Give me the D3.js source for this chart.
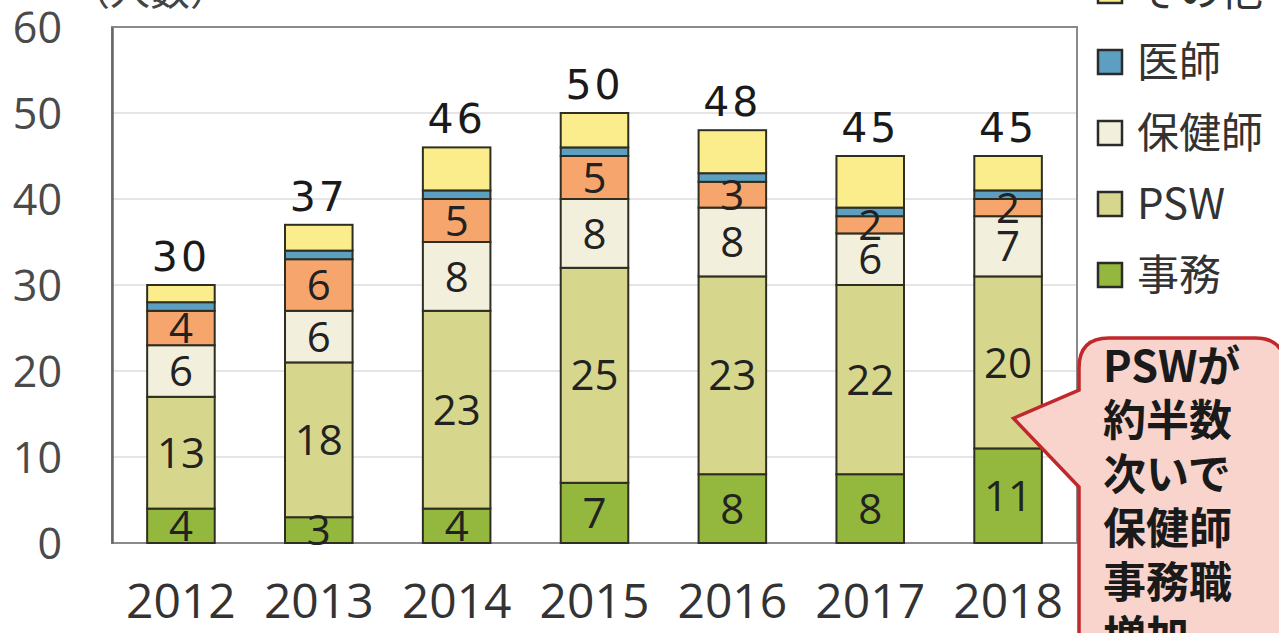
<!DOCTYPE html>
<html lang="ja">
<head>
<meta charset="utf-8">
<script src="https://cdn.jsdelivr.net/npm/d3@7"></script>
<style>
  html, body { margin: 0; padding: 0; background: #ffffff; overflow: hidden; }
  svg { display: block; }
</style>
</head>
<body>
<svg id="chart" width="1279" height="633"></svg>
<script>
// Staff by job type, 2012–2018 (persons)
const years = ["2012", "2013", "2014", "2015", "2016", "2017", "2018"];
const jimu     = [4, 3, 4, 7, 8, 8, 11];       // 事務
const psw      = [13, 18, 23, 25, 23, 22, 20]; // PSW
const hokenshi = [6, 6, 8, 8, 8, 6, 7];        // 保健師
const shinri   = [4, 6, 5, 5, 3, 2, 2];        // 心理職
const ishi     = [1, 1, 1, 1, 1, 1, 1];        // 医師
const sonota   = [2, 3, 5, 4, 5, 6, 4];        // その他
const totals   = [30, 37, 46, 50, 48, 45, 45];
const yTicks   = [0, 10, 20, 30, 40, 50, 60];

const seriesKeys   = ["事務", "PSW", "保健師", "心理職", "医師", "その他"];
const seriesValues = [jimu, psw, hokenshi, shinri, ishi, sonota];
const seriesColors = ["#93b83d", "#d6d78d", "#f3efdd", "#f6a66c", "#5d9fc0", "#fbec8c"];
const labelled     = ["事務", "PSW", "保健師", "心理職"];
const legendKeys   = ["その他", "医師", "保健師", "PSW", "事務"];

const rows = years.map((yr, i) => {
  const r = { year: yr };
  seriesKeys.forEach((k, j) => { r[k] = seriesValues[j][i]; });
  return r;
});

const svg = d3.select("#chart");
const plot = { left: 112, right: 1077, top: 27, bottom: 543 };

const x = d3.scaleBand().domain(years).range([plot.left, plot.right]).paddingInner(0.51).paddingOuter(0.255);
const y = d3.scaleLinear().domain([0, 60]).range([plot.bottom, plot.top]);
const color = d3.scaleOrdinal().domain(seriesKeys).range(seriesColors);

// gridlines
svg.append("g")
  .selectAll("line")
  .data(yTicks.filter(t => t > 0 && t < 60))
  .join("line")
  .attr("x1", plot.left).attr("x2", plot.right)
  .attr("y1", d => y(d)).attr("y2", d => y(d))
  .attr("stroke", "#dcdcdc").attr("stroke-width", 1.5);

// plot frame
svg.append("rect")
  .attr("x", plot.left).attr("y", plot.top)
  .attr("width", plot.right - plot.left).attr("height", plot.bottom - plot.top)
  .attr("fill", "none").attr("stroke", "#8a8a8a").attr("stroke-width", 2);

// y axis
const yAxis = svg.append("g")
  .attr("transform", `translate(${plot.left},0)`)
  .call(d3.axisLeft(y).tickValues(yTicks).tickSize(0).tickPadding(50));
yAxis.select(".domain").attr("stroke", "#666").attr("stroke-width", 2.5);
yAxis.selectAll("text")
  .attr("font-family", "'Open Sans', sans-serif")
  .attr("font-size", 43).attr("fill", "#4a4a4a").attr("dy", "0.36em");

// x axis
const xAxis = svg.append("g")
  .attr("transform", `translate(0,${plot.bottom})`)
  .call(d3.axisBottom(x).tickSize(0).tickPadding(50));
xAxis.select(".domain").remove();
xAxis.selectAll("text")
  .attr("font-family", "'Open Sans', sans-serif")
  .attr("font-size", 48).attr("fill", "#333").attr("dy", "0.52em");

// unit label above the axis
svg.append("text")
  .attr("x", 70).attr("y", 5)
  .attr("font-family", "'Noto Sans CJK JP', sans-serif")
  .attr("font-size", 40).attr("fill", "#444")
  .text("（人数）");

// stacked bars
const stacked = d3.stack().keys(seriesKeys)(rows);
const layers = svg.append("g")
  .selectAll("g")
  .data(stacked)
  .join("g")
  .attr("fill", d => color(d.key));

layers.selectAll("rect")
  .data(d => d.map(s => Object.assign(s, { key: d.key })))
  .join("rect")
  .attr("x", d => x(d.data.year))
  .attr("y", d => y(d[1]))
  .attr("width", x.bandwidth())
  .attr("height", d => y(d[0]) - y(d[1]))
  .attr("stroke", "#2e2e22").attr("stroke-width", 2);

// segment value labels
svg.append("g")
  .selectAll("text")
  .data(stacked.filter(s => labelled.includes(s.key)).flatMap(s => s.map(d => ({ key: s.key, v: d[1] - d[0], y0: d[0], y1: d[1], year: d.data.year }))))
  .join("text")
  .attr("x", d => x(d.year) + x.bandwidth() / 2)
  .attr("y", d => y((d.y0 + d.y1) / 2))
  .attr("dy", "0.36em")
  .attr("text-anchor", "middle")
  .attr("font-family", "'Open Sans', sans-serif")
  .attr("font-size", 42).attr("fill", "#222")
  .text(d => d.v);

// totals above the bars
svg.append("g")
  .selectAll("text")
  .data(years.map((yr, i) => ({ year: yr, total: totals[i] })))
  .join("text")
  .attr("x", d => x(d.year) + x.bandwidth() / 2)
  .attr("y", d => y(d.total) - 14)
  .attr("text-anchor", "middle")
  .attr("font-family", "'DejaVu Sans', sans-serif")
  .attr("font-size", 41).attr("letter-spacing", 3).attr("fill", "#1a1a1a")
  .text(d => d.total);

// legend
const legend = svg.append("g")
  .selectAll("g")
  .data(legendKeys)
  .join("g")
  .attr("transform", (d, i) => `translate(1098,${-9 + i * 71})`);
legend.append("rect")
  .attr("x", 0).attr("y", -12).attr("width", 24).attr("height", 24)
  .attr("fill", d => color(d)).attr("stroke", "#2b2b2b").attr("stroke-width", 2.5);
legend.append("text")
  .attr("x", 39).attr("y", 0).attr("dy", "0.36em")
  .attr("font-family", "'Noto Sans CJK JP', sans-serif")
  .attr("font-size", 42).attr("fill", "#333")
  .text(d => d);

// callout pointing at the 2018 PSW segment
const tipX = x("2018") + x.bandwidth() * 0.58;
const tipY = y(14.5);
const bx = 1079, by = 338, bw = 206, r = 30;
const p = d3.path();
p.moveTo(bx + r, by);
p.lineTo(bx + bw - r, by);
p.quadraticCurveTo(bx + bw, by, bx + bw, by + r);
p.lineTo(bx + bw, 660);
p.lineTo(bx, 660);
p.lineTo(bx, 487);
p.lineTo(tipX, tipY);
p.lineTo(bx, 390);
p.lineTo(bx, by + r);
p.quadraticCurveTo(bx, by, bx + r, by);
p.closePath();
svg.append("path")
  .attr("d", p.toString())
  .attr("fill", "#f8d4cd").attr("stroke", "#c0282c").attr("stroke-width", 3.5)
  .attr("stroke-linejoin", "miter");

const calloutLines = ["PSWが", "約半数", "次いで", "保健師", "事務職", "増加"];
svg.append("g")
  .selectAll("text")
  .data(calloutLines)
  .join("text")
  .attr("x", 1103)
  .attr("y", (d, i) => 382 + i * 54)
  .attr("font-family", "'Noto Sans CJK JP', sans-serif")
  .attr("font-weight", 700)
  .attr("font-size", 43).attr("fill", "#1a1a1a")
  .text(d => d);
</script>
</body>
</html>
